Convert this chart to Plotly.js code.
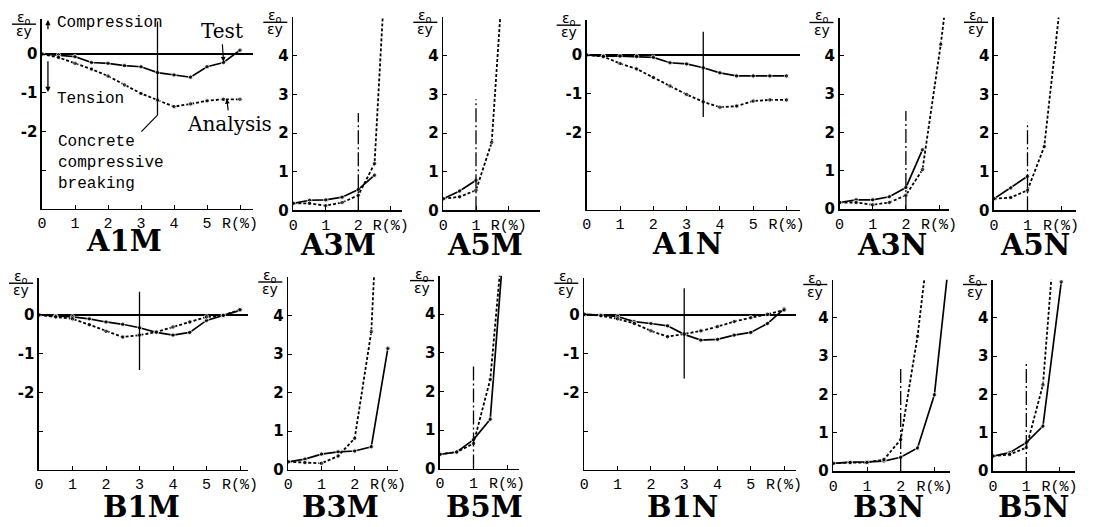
<!DOCTYPE html>
<html><head><meta charset="utf-8">
<script src="https://cdn.plot.ly/plotly-3.0.1.min.js"></script>
<style>body{margin:0;background:#fff}#chart{width:1094px;height:527px}</style>
</head><body><div id="chart"></div>
<script>
// ---------------- DATA ----------------
const panelNames = ['A1M','A3M','A5M','A1N','A3N','A5N','B1M','B3M','B5M','B1N','B3N','B5N'];

const R_A1M_test = [0,0.5,1,1.5,2,2.5,3,3.5,4,4.5,5,5.5,6];
const A1M_test   = [0,-0.03,-0.07,-0.22,-0.24,-0.3,-0.33,-0.48,-0.54,-0.6,-0.33,-0.22,0.1];
const R_A1M_ana  = [0,0.5,1,1.5,2,2.5,3,3.5,4,4.5,5,5.5,6];
const A1M_ana    = [0,-0.09,-0.24,-0.39,-0.57,-0.8,-1.02,-1.19,-1.36,-1.29,-1.21,-1.17,-1.17];

const R_A3M_test = [0,0.5,1,1.5,2,2.5];
const A3M_test   = [0.18,0.26,0.27,0.34,0.54,0.91];
const R_A3M_ana  = [0,0.5,1,1.5,2,2.5,2.75];
const A3M_ana    = [0.18,0.18,0.12,0.2,0.39,1.21,5.0];

const R_A5M_test = [0,0.5,1];
const A5M_test   = [0.3,0.5,0.78];
const R_A5M_ana  = [0,0.5,1,1.48,1.74];
const A5M_ana    = [0.3,0.35,0.52,1.76,5.0];

const R_A1N_test = [0,0.5,1,1.5,2,2.5,3,3.5,4,4.5,5,5.5,6];
const A1N_test   = [0,-0.03,-0.03,-0.04,-0.06,-0.2,-0.23,-0.33,-0.46,-0.54,-0.54,-0.54,-0.54];
const R_A1N_ana  = [0,0.5,1,1.5,2,2.5,3,3.5,4,4.5,5,5.5,6];
const A1N_ana    = [0,-0.04,-0.22,-0.36,-0.58,-0.8,-1.02,-1.21,-1.35,-1.32,-1.19,-1.16,-1.16];

const R_A3N_test = [0,0.5,1,1.5,2,2.5];
const A3N_test   = [0.17,0.24,0.24,0.32,0.56,1.55];
const R_A3N_ana  = [0,0.5,1,1.5,2,2.5,3.05,3.15];
const A3N_ana    = [0.17,0.17,0.11,0.17,0.36,1.03,4.3,5.0];

const R_A5N_test = [0,0.5,1];
const A5N_test   = [0.3,0.58,0.88];
const R_A5N_ana  = [0,0.5,1,1.5,1.93];
const A5N_ana    = [0.3,0.33,0.52,1.65,5.0];

const R_B1M_test = [0,0.5,1,1.5,2,2.5,3,3.5,4,4.5,5,5.5,6];
const B1M_test   = [0,-0.03,-0.05,-0.1,-0.18,-0.24,-0.33,-0.45,-0.52,-0.45,-0.14,-0.01,0.12];
const R_B1M_ana  = [0,0.5,1,1.5,2,2.5,3,3.5,4,4.5,5,5.5,6];
const B1M_ana    = [0,-0.05,-0.1,-0.25,-0.42,-0.57,-0.52,-0.44,-0.31,-0.18,-0.05,-0.01,0.14];

const R_B3M_test = [0,0.5,1,1.5,2,2.5,3];
const B3M_test   = [0.2,0.27,0.4,0.46,0.48,0.59,3.15];
const R_B3M_ana  = [0,0.5,1,1.5,2,2.5,2.58];
const B3M_ana    = [0.2,0.18,0.16,0.35,0.81,3.58,5.0];

const R_B5M_test = [0,0.5,1,1.5,1.83];
const B5M_test   = [0.37,0.43,0.75,1.28,5.0];
const R_B5M_ana  = [0,0.5,1,1.5,1.78];
const B5M_ana    = [0.37,0.43,0.65,2.31,5.0];

const R_B1N_test = [0,0.5,1,1.5,2,2.5,3,3.5,4,4.5,5,5.5,6];
const B1N_test   = [0.02,0,-0.04,-0.17,-0.22,-0.28,-0.5,-0.65,-0.63,-0.52,-0.45,-0.22,0.16];
const R_B1N_ana  = [0,0.5,1,1.5,2,2.5,3,3.5,4,4.5,5,5.5,6];
const B1N_ana    = [0.02,-0.02,-0.1,-0.22,-0.41,-0.56,-0.49,-0.41,-0.3,-0.17,-0.07,0.02,0.13];

const R_B3N_test = [0,0.5,1,1.5,2,2.5,3,3.37];
const B3N_test   = [0.2,0.23,0.24,0.26,0.36,0.6,1.99,5.0];
const R_B3N_ana  = [0,0.5,1,1.5,2,2.5,2.7];
const B3N_ana    = [0.2,0.22,0.22,0.3,0.82,3.52,5.0];

const R_B5N_test = [0,0.5,1,1.5,2.05];
const B5N_test   = [0.39,0.48,0.74,1.17,4.94];
const R_B5N_ana  = [0,0.5,1,1.5,1.75];
const B5N_ana    = [0.39,0.43,0.61,2.25,5.0];

// concrete compressive breaking (vertical marker lines)
const breakR      = [3.5, 2, 1, 3.5, 2, 1, 3, null, 1, 3, 2, 1];
const breakTop    = [0.84, 2.52, 2.88, 0.6, 2.56, 2.29, 0.6, null, 2.68, 0.69, 2.68, 2.81];
const breakBottom = [-1.58, 0, 0, -1.6, 0, 0, -1.42, null, 0, -1.64, 0, 0];

const testR = [R_A1M_test,R_A3M_test,R_A5M_test,R_A1N_test,R_A3N_test,R_A5N_test,R_B1M_test,R_B3M_test,R_B5M_test,R_B1N_test,R_B3N_test,R_B5N_test];
const testY = [A1M_test,A3M_test,A5M_test,A1N_test,A3N_test,A5N_test,B1M_test,B3M_test,B5M_test,B1N_test,B3N_test,B5N_test];
const anaR  = [R_A1M_ana,R_A3M_ana,R_A5M_ana,R_A1N_ana,R_A3N_ana,R_A5N_ana,R_B1M_ana,R_B3M_ana,R_B5M_ana,R_B1N_ana,R_B3N_ana,R_B5N_ana];
const anaY  = [A1M_ana,A3M_ana,A5M_ana,A1N_ana,A3N_ana,A5N_ana,B1M_ana,B3M_ana,B5M_ana,B1N_ana,B3N_ana,B5N_ana];

// ---------------- LAYOUT (pixel frames) ----------------
const W = 1094, H = 527;
const frames = [
 {x0:42,   xu:33,   xmax:6.4,  y0:54,    yu:38.7, ymin:-4, ymax:0.9,  rmax:6, tx:124, ty:241},
 {x0:293.3,xu:32.5, xmax:3.35, y0:210.3, yu:38.6, ymin:0,  ymax:5.0,  rmax:3, tx:338, ty:245},
 {x0:443.3,xu:32.7, xmax:2.95, y0:210.3, yu:38.6, ymin:0,  ymax:5.0,  rmax:2, tx:485, ty:245},
 {x0:586.7,xu:33.3, xmax:6.4,  y0:55,    yu:38.7, ymin:-4, ymax:0.9,  rmax:6, tx:687, ty:244},
 {x0:839.5,xu:33.2, xmax:3.3,  y0:209,   yu:38.3, ymin:0,  ymax:5.0,  rmax:3, tx:892, ty:245},
 {x0:994,  xu:33.5, xmax:2.45, y0:210.3, yu:38.6, ymin:0,  ymax:5.0,  rmax:2, tx:1035,ty:245},
 {x0:39,   xu:33.5, xmax:6.25, y0:315,   yu:38.7, ymin:-4, ymax:0.95, rmax:6, tx:141, ty:507},
 {x0:288.3,xu:33.2, xmax:3.3,  y0:469.5, yu:38.5, ymin:0,  ymax:5.0,  rmax:3, tx:340, ty:507},
 {x0:440,  xu:33.5, xmax:2.35, y0:468.6, yu:38.6, ymin:0,  ymax:5.0,  rmax:2, tx:484, ty:507},
 {x0:584.3,xu:33.3, xmax:6.37, y0:315,   yu:38.7, ymin:-4, ymax:0.95, rmax:6, tx:682, ty:507},
 {x0:833.3,xu:33.7, xmax:3.45, y0:471,   yu:38.3, ymin:0,  ymax:5.0,  rmax:3, tx:888, ty:507},
 {x0:993,  xu:33.3, xmax:2.45, y0:471,   yu:38.3, ymin:0,  ymax:5.0,  rmax:2, tx:1033,ty:507},
];
const px = v => v / W;
const py = v => 1 - v / H;

const MONO = 'Liberation Mono, Courier New, monospace';
const SANS = 'DejaVu Sans, sans-serif';
const SERIF = 'DejaVu Serif, Liberation Serif, serif';

const data = [];
const layout = {
  width: W, height: H,
  margin: {l:0, r:0, t:0, b:0},
  paper_bgcolor: '#fff', plot_bgcolor: 'rgba(0,0,0,0)',
  showlegend: false,
  annotations: [], shapes: []
};

frames.forEach((f, i) => {
  const n = i === 0 ? '' : String(i + 1);
  const xr = 'x' + n, yr = 'y' + n;
  const xLeft = f.x0, xRight = f.x0 + f.xmax * f.xu;
  const yTop = f.y0 - f.ymax * f.yu, yBot = f.y0 - f.ymin * f.yu;
  const neg = f.ymin < 0;
  const xt = []; const xtt = [];
  for (let k = 0; k <= f.rmax; k++) { xt.push(k); xtt.push(k === f.rmax ? 'R(%)' : String(k)); }
  const yt = neg ? [0,-1,-2,-3] : [0,1,2,3,4];
  const ytt = neg ? ['0','-1','-2',' '] : ['0','1','2','3','4'];
  layout['xaxis' + n] = {
    domain: [px(xLeft), px(xRight)], range: [0, f.xmax], anchor: yr,
    showgrid: false, zeroline: false, showline: true, linecolor: '#000', linewidth: 1.6,
    ticks: 'inside', ticklen: 4, tickcolor: '#000', tickvals: xt, ticktext: xtt,
    tickfont: {family: MONO, size: 15, color: '#000'}, fixedrange: true
  };
  layout['yaxis' + n] = {
    domain: [py(yBot), py(yTop)], range: [f.ymin, f.ymax], anchor: xr,
    showgrid: false, zeroline: neg, zerolinecolor: '#000', zerolinewidth: 1.5,
    showline: true, linecolor: '#000', linewidth: 1.6,
    ticks: 'inside', ticklen: 4, tickcolor: '#000', tickvals: yt, ticktext: ytt,
    tickfont: {family: SANS, size: 15, color: '#000', weight: 'bold'}, fixedrange: true
  };
  // test (solid)
  data.push({
    type: 'scatter', mode: 'lines+markers', x: testR[i], y: testY[i], xaxis: xr, yaxis: yr,
    line: {color: '#000', width: 1.7},
    marker: {color: '#000', size: testY[i].map(v => v >= 4.97 ? 0 : 4.5)},
    hoverinfo: 'skip'
  });
  // analysis (dotted)
  data.push({
    type: 'scatter', mode: 'lines+markers', x: anaR[i], y: anaY[i], xaxis: xr, yaxis: yr,
    line: {color: '#000', width: 1.8, dash: '3px,2px'},
    marker: {color: '#000', size: anaY[i].map(v => v >= 4.97 ? 0 : 4.5)},
    hoverinfo: 'skip'
  });
  // breaking line
  if (breakR[i] !== null) {
    data.push({
      type: 'scatter', mode: 'lines', x: [breakR[i], breakR[i]], y: [breakBottom[i], breakTop[i]],
      xaxis: xr, yaxis: yr,
      line: {color: '#000', width: 1.3, dash: neg ? 'solid' : '14px,3px,2px,3px'},
      hoverinfo: 'skip'
    });
  }
  // panel title
  layout.annotations.push({
    xref: 'paper', yref: 'paper', x: px(f.tx), y: py(f.ty), xanchor: 'center', yanchor: 'middle',
    text: '<b>' + panelNames[i] + '</b>', showarrow: false,
    font: {family: SERIF, size: 29, color: '#000'}
  });
  // y-axis label (fraction eps_o / eps_y)
  const fx = f.x0 - 18, fl = yTop + 5;
  layout.annotations.push({
    xref: 'paper', yref: 'paper', x: px(fx), y: py(fl - 6), xanchor: 'center', yanchor: 'middle',
    text: 'ε<sub>o</sub>', showarrow: false, font: {family: SANS, size: 14, color: '#000'}
  });
  layout.annotations.push({
    xref: 'paper', yref: 'paper', x: px(fx), y: py(fl + 7), xanchor: 'center', yanchor: 'middle',
    text: 'εy', showarrow: false, font: {family: SANS, size: 14, color: '#000'}
  });
  layout.shapes.push({
    type: 'line', xref: 'paper', yref: 'paper', x0: px(fx - 12), x1: px(fx + 12), y0: py(fl), y1: py(fl),
    line: {color: '#000', width: 1.4}
  });
});

// A1M explanatory annotations
const mono16 = {family: MONO, size: 16, color: '#000'};
const serif20 = {family: SERIF, size: 20, color: '#000'};
layout.annotations.push(
  {xref:'x', yref:'y', x:0.39, y:0.8, xanchor:'left', yanchor:'middle', text:'Compression', showarrow:false, font: mono16},
  {xref:'x', yref:'y', x:0.39, y:-1.16, xanchor:'left', yanchor:'middle', text:'Tension', showarrow:false, font: mono16},
  {xref:'x', yref:'y', x:0.18, y:0.88, ax:0.18, ay:0.6, axref:'x', ayref:'y', text:'', showarrow:true,
    arrowhead:2, arrowsize:0.8, arrowwidth:1.3, arrowcolor:'#000'},
  {xref:'x', yref:'y', x:0.18, y:-0.98, ax:0.18, ay:-0.15, axref:'x', ayref:'y', text:'', showarrow:true,
    arrowhead:2, arrowsize:0.8, arrowwidth:1.3, arrowcolor:'#000'},
  {xref:'x', yref:'y', x:5.5, y:-0.2, ax:-2, ay:-31, text:'Test', showarrow:true,
    arrowhead:2, arrowsize:0.8, arrowwidth:1.2, arrowcolor:'#000', font: serif20},
  {xref:'x', yref:'y', x:5.6, y:-1.16, ax:3, ay:25, text:'Analysis', showarrow:true,
    arrowhead:2, arrowsize:0.8, arrowwidth:1.2, arrowcolor:'#000', font: serif20},
  {xref:'x', yref:'y', x:3.5, y:-1.58, ax:-47, ay:48, text:'Concrete   <br>compressive<br>breaking   ', align:'left',
    showarrow:true, arrowhead:0, arrowwidth:1.2, arrowcolor:'#000', font: mono16}
);

Plotly.newPlot('chart', data, layout, {staticPlot: true, displayModeBar: false});
</script>
</body></html>
